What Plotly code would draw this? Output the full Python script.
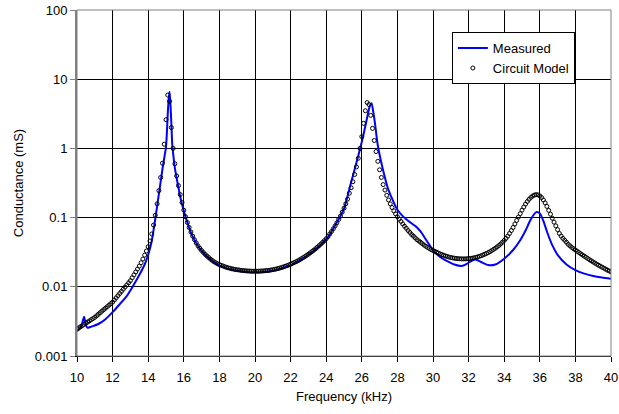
import plotly.graph_objects as go

# ---- Data ----
# Measured conductance (blue line): frequency in kHz, conductance in mS
meas_freq = [10.0, 10.1, 10.2, 10.3, 10.35, 10.4, 10.45, 10.5, 10.6, 10.7, 10.9, 11.2, 11.6,
             12.0, 12.4, 12.8, 13.1, 13.5, 13.8, 14.0, 14.2, 14.3, 14.4, 14.5, 14.6, 14.7,
             14.8, 14.9, 15.0, 15.05, 15.1, 15.15, 15.2, 15.25, 15.3, 15.35, 15.4, 15.5,
             15.6, 15.7, 15.8, 16.0, 16.2, 16.5, 17.0, 17.5, 18.0, 18.5, 19.0, 19.5, 20.0,
             20.5, 21.0, 21.5, 22.0, 22.5, 23.0, 23.5, 24.0, 24.5, 25.0, 25.35, 25.6, 25.9,
             26.1, 26.3, 26.45, 26.55, 26.65, 26.75, 26.9, 27.2, 27.5, 28.0, 28.3, 28.6,
             28.9, 29.1, 29.3, 29.5, 29.7, 30.0, 30.4, 30.8, 31.2, 31.6, 31.9, 32.2, 32.4,
             32.7, 33.1, 33.5, 34.0, 34.5, 34.9, 35.2, 35.5, 35.8, 36.0, 36.2, 36.4, 36.7,
             37.0, 37.5, 38.0, 38.5, 39.0, 39.5, 40.0]
meas_g = [0.0023, 0.0024, 0.0026, 0.0030, 0.0034, 0.0037, 0.0032, 0.0028, 0.00255, 0.0026,
          0.0027, 0.0029, 0.0034, 0.0043, 0.0056, 0.0074, 0.0098, 0.0148, 0.021, 0.029,
          0.046, 0.066, 0.097, 0.145, 0.22, 0.33, 0.5, 0.72, 1.05, 1.7, 3.2, 5.2, 6.6, 4.3,
          2.3, 1.15, 0.85, 0.52, 0.37, 0.27, 0.2, 0.125, 0.085, 0.053, 0.033, 0.0248,
          0.0204, 0.0182, 0.0170, 0.0164, 0.0162, 0.0164, 0.0171, 0.0184, 0.0206, 0.0239,
          0.029, 0.0365, 0.048, 0.077, 0.135, 0.29, 0.5, 0.98, 1.6, 2.8, 4.1, 4.5, 3.3,
          2.2, 1.1, 0.48, 0.25, 0.13, 0.105, 0.09, 0.079, 0.072, 0.063, 0.053, 0.044,
          0.034, 0.027, 0.0235, 0.021, 0.020, 0.0215, 0.024, 0.0248, 0.0228, 0.0206,
          0.021, 0.0255, 0.034, 0.047, 0.065, 0.095, 0.12, 0.115, 0.09, 0.063, 0.040,
          0.029, 0.021, 0.0174, 0.0155, 0.0143, 0.0136, 0.0131]

# Circuit model (open circles): sampled every 0.1 kHz from 10 kHz to 40 kHz
model_start_khz = 10.0
model_step_khz = 0.1
model_g = [
    # 10.0 - 14.0
    0.00245, 0.00255, 0.00265, 0.00275, 0.00286, 0.00298, 0.00310, 0.00322, 0.00335, 0.00348,
    0.00362, 0.00381, 0.00401, 0.00422, 0.00444, 0.00467, 0.00491, 0.00516, 0.00543, 0.00571,
    0.00601, 0.00646, 0.00693, 0.00745, 0.00800, 0.00859, 0.00923, 0.00991, 0.01064, 0.01143,
    0.01227, 0.01352, 0.01489, 0.01641, 0.01807, 0.01991, 0.0223, 0.0252, 0.0287, 0.0329,
    0.0380,
    # 14.1 - 16.0
    0.046, 0.058, 0.078, 0.108, 0.158, 0.245, 0.38, 0.61, 1.15, 2.6,
    5.9, 4.8, 2.0, 1.0, 0.6, 0.40, 0.29, 0.215, 0.165, 0.128,
    # 16.1 - 18.0
    0.103, 0.085, 0.072, 0.062, 0.054, 0.048, 0.043, 0.039, 0.036, 0.0335,
    0.0313, 0.0294, 0.0278, 0.0264, 0.0251, 0.0240, 0.0230, 0.0222, 0.0215, 0.0209,
    # 18.1 - 24.0
    0.0204, 0.0200, 0.0195, 0.0191, 0.0188, 0.0185, 0.0182, 0.0180, 0.0178, 0.0176,
    0.0175, 0.0173, 0.0172, 0.0171, 0.0170, 0.0169, 0.0169, 0.0168, 0.0168, 0.0168,
    0.0168, 0.0168, 0.0169, 0.0169, 0.0170, 0.0171, 0.0172, 0.0173, 0.0175, 0.0177,
    0.0179, 0.0181, 0.0184, 0.0187, 0.0190, 0.0194, 0.0198, 0.0202, 0.0207, 0.0212,
    0.0218, 0.0224, 0.0230, 0.0237, 0.0245, 0.0254, 0.0263, 0.0273, 0.0284, 0.0296,
    0.0309, 0.0323, 0.0338, 0.0355, 0.0373, 0.0393, 0.0415, 0.0439, 0.0465, 0.0494,
    # 24.1 - 27.2
    0.053, 0.058, 0.063, 0.069, 0.076, 0.084, 0.094, 0.105, 0.12, 0.137,
    0.158, 0.185, 0.225, 0.27, 0.33, 0.42, 0.54, 0.72, 1.0, 1.48,
    2.3, 3.5, 4.6, 4.3, 3.0, 1.95, 1.3, 0.9, 0.65, 0.49,
    0.38, 0.30,
    # 27.3 - 34.0
    0.25, 0.21, 0.18, 0.158, 0.140, 0.125, 0.113, 0.103, 0.095, 0.088,
    0.081, 0.075, 0.070, 0.065, 0.061, 0.057, 0.054, 0.051, 0.048, 0.046,
    0.044, 0.042, 0.040, 0.0385, 0.037, 0.0357, 0.0345, 0.0335, 0.0325, 0.0316,
    0.0307, 0.0299, 0.0292, 0.0285, 0.0279, 0.0274, 0.0269, 0.0265, 0.0262, 0.0259,
    0.0257, 0.0255, 0.0254, 0.0253, 0.0253, 0.0253, 0.0254, 0.0255, 0.0257, 0.0259,
    0.0262, 0.0266, 0.0270, 0.0275, 0.0281, 0.0288, 0.0295, 0.0303, 0.0312, 0.0322,
    0.0334, 0.0347, 0.0361, 0.0377, 0.0395, 0.0416, 0.0440, 0.0467,
    # 34.1 - 40.0
    0.050, 0.054, 0.059, 0.065, 0.072, 0.081, 0.091, 0.102, 0.114, 0.128,
    0.142, 0.157, 0.171, 0.184, 0.196, 0.205, 0.212, 0.215, 0.213, 0.206,
    0.195, 0.180, 0.163, 0.145, 0.127, 0.112, 0.098, 0.086, 0.076, 0.067,
    0.059, 0.054, 0.050, 0.047, 0.044, 0.041, 0.039, 0.037, 0.0355, 0.034,
    0.0326, 0.0313, 0.0300, 0.0288, 0.0277, 0.0266, 0.0256, 0.0246, 0.0237, 0.0228,
    0.0220, 0.0212, 0.0205, 0.0198, 0.0192, 0.0186, 0.0180, 0.0174, 0.0169, 0.0164,
]
model_freq = [round(model_start_khz + model_step_khz * i, 1) for i in range(len(model_g))]

x_ticks = [10, 12, 14, 16, 18, 20, 22, 24, 26, 28, 30, 32, 34, 36, 38, 40]
y_tick_vals = [0.001, 0.01, 0.1, 1, 10, 100]
y_tick_text = ["0.001", "0.01", "0.1", "1", "10", "100"]

FONT = "Liberation Sans, Arial, sans-serif"

fig = go.Figure()
fig.add_trace(go.Scatter(
    x=meas_freq, y=meas_g, mode="lines", name="Measured",
    line=dict(color="#0000FF", width=2, shape="spline", smoothing=0.6),
))
fig.add_trace(go.Scatter(
    x=model_freq, y=model_g, mode="markers", name="Circuit Model",
    marker=dict(symbol="circle-open", size=4, color="black", line=dict(width=1, color="black")),
))

fig.update_layout(
    width=619, height=414,
    margin=dict(l=77, r=8, t=10, b=58),
    paper_bgcolor="white", plot_bgcolor="white",
    font=dict(family=FONT, size=13, color="black"),
    showlegend=True,
    legend=dict(
        x=0.702, y=0.936, xanchor="left", yanchor="top",
        bgcolor="white", bordercolor="black", borderwidth=1,
        font=dict(family=FONT, size=13, color="black"),
        itemwidth=30, tracegroupgap=0,
    ),
)
fig.update_xaxes(
    range=[10, 40], tickvals=x_ticks, ticks="outside", ticklen=5, tickcolor="black",
    showgrid=True, gridcolor="black", gridwidth=1,
    showline=True, linecolor="black", linewidth=1, mirror=False,
    zeroline=False, automargin=False, ticklabelstandoff=4,
    title=dict(text="Frequency (kHz)", font=dict(family=FONT, size=13), standoff=8),
    tickfont=dict(family=FONT, size=13),
)
fig.update_yaxes(
    type="log", range=[-3, 2], tickvals=y_tick_vals, ticktext=y_tick_text,
    ticks="outside", ticklen=5, tickcolor="#808080",
    showgrid=True, gridcolor="black", gridwidth=1,
    showline=True, linecolor="#808080", linewidth=2, mirror=False,
    zeroline=False, automargin=False,
    title=dict(text="Conductance (mS)", font=dict(family=FONT, size=13), standoff=8),
    tickfont=dict(family=FONT, size=13),
)
# grey plot-area border on top and right
fig.add_shape(type="rect", xref="paper", yref="paper", x0=0, y0=0, x1=1, y1=1,
              line=dict(color="#808080", width=1), layer="above")

fig.write_html("out.html")
